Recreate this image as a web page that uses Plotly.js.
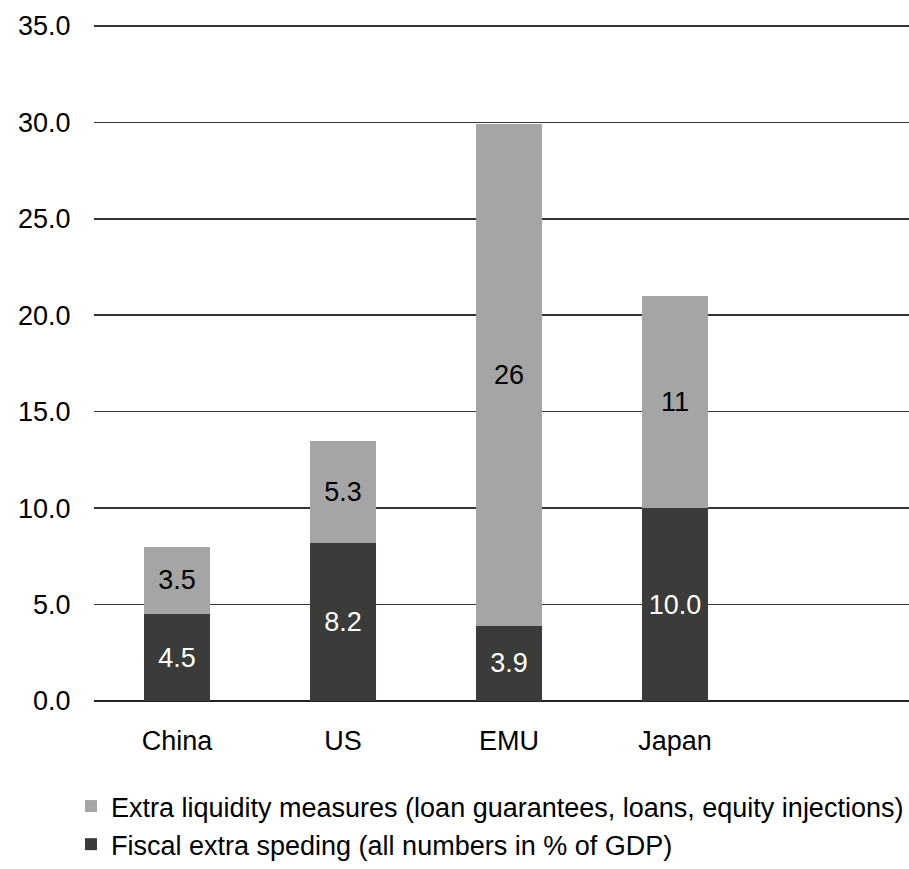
<!DOCTYPE html>
<html>
<head>
<meta charset="utf-8">
<script src="https://cdn.plot.ly/plotly-3.0.1.min.js"></script>
<style>html,body{margin:0;padding:0;background:#fff;}#chart{width:909px;height:869px;}</style>
</head>
<body>
<div id="chart"></div>
<script>
const categories = ["China", "US", "EMU", "Japan"];
const fiscalValues = [4.5, 8.2, 3.9, 10.0];
const liquidityValues = [3.5, 5.3, 26, 11];
const fiscalLabels = ["4.5", "8.2", "3.9", "10.0"];
const liquidityLabels = ["3.5", "5.3", "26", "11"];
const yTickVals = [0, 5, 10, 15, 20, 25, 30, 35];
const yTickText = ["0.0", "5.0", "10.0", "15.0", "20.0", "25.0", "30.0", "35.0"];

const FONT = "Liberation Sans, Arial, sans-serif";
const FS = 27;

const traces = [
  {
    type: "bar",
    name: "Fiscal extra speding (all numbers in % of GDP)",
    x: categories,
    y: fiscalValues,
    text: fiscalLabels,
    textposition: "inside",
    insidetextanchor: "middle",
    constraintext: "none",
    textfont: {family: FONT, size: FS, color: "#ffffff"},
    marker: {color: "#3a3c39"},
    hoverinfo: "x+y"
  },
  {
    type: "bar",
    name: "Extra liquidity measures (loan guarantees, loans, equity injections)",
    x: categories,
    y: liquidityValues,
    text: liquidityLabels,
    textposition: "inside",
    insidetextanchor: "middle",
    constraintext: "none",
    textfont: {family: FONT, size: FS, color: "#000000"},
    marker: {color: "#a5a5a5"},
    hoverinfo: "x+y"
  }
];

const layout = {
  width: 909,
  height: 869,
  margin: {l: 94, r: 0, t: 24, b: 167},
  paper_bgcolor: "#ffffff",
  plot_bgcolor: "#ffffff",
  font: {family: FONT, size: FS, color: "#000000"},
  barmode: "stack",
  bargap: 0.6,
  showlegend: true,
  legend: {
    orientation: "v",
    traceorder: "reversed",
    x: -0.025,
    xanchor: "left",
    y: -0.12,
    yanchor: "top",
    font: {family: FONT, size: FS, color: "#000000"},
    bgcolor: "rgba(0,0,0,0)",
    borderwidth: 0,
    itemwidth: 30
  },
  xaxis: {
    type: "category",
    range: [-0.5, 4.41],
    showgrid: false,
    showline: false,
    zeroline: false,
    ticks: "outside",
    ticklen: 16,
    tickcolor: "rgba(0,0,0,0)",
    tickfont: {family: FONT, size: FS, color: "#000000"},
    fixedrange: true
  },
  yaxis: {
    range: [0, 35.1],
    tickvals: yTickVals,
    ticktext: yTickText,
    showgrid: true,
    gridcolor: "#333333",
    gridwidth: 1.6,
    zeroline: true,
    zerolinecolor: "#222222",
    zerolinewidth: 1.6,
    showline: false,
    ticks: "outside",
    ticklen: 17,
    tickcolor: "rgba(0,0,0,0)",
    tickfont: {family: FONT, size: FS, color: "#000000"},
    fixedrange: true
  }
};

Plotly.newPlot("chart", traces, layout, {displayModeBar: false, staticPlot: true});
</script>
</body>
</html>
